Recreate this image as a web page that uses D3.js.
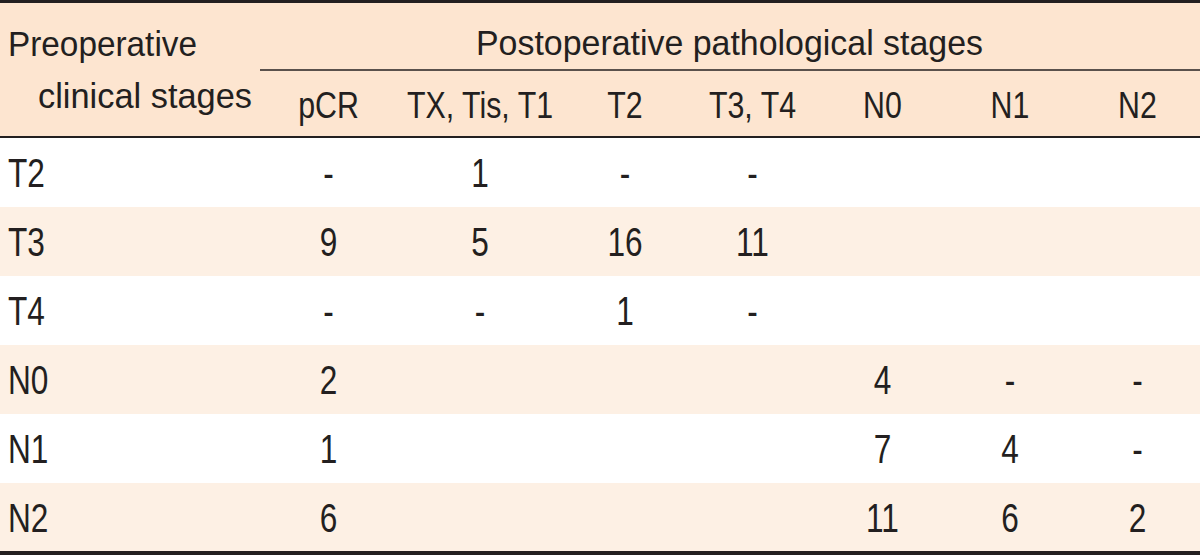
<!DOCTYPE html>
<html>
<head>
<meta charset="utf-8">
<script src="https://cdn.jsdelivr.net/npm/d3@7"></script>
<style>
  html, body { margin: 0; padding: 0; background: #ffffff; }
  svg { display: block; }
  text { font-family: "Liberation Sans", Arial, sans-serif; fill: #231f20; }
</style>
</head>
<body>
<svg id="chart" width="1200" height="555"></svg>
<script>
// ---- data ----
const stubTitle = ["Preoperative", "clinical stages"];
const spanTitle = "Postoperative pathological stages";
const columns = ["pCR", "TX, Tis, T1", "T2", "T3, T4", "N0", "N1", "N2"];
const rowLabels = ["T2", "T3", "T4", "N0", "N1", "N2"];
const rowT2 = ["-", "1", "-", "-", "", "", ""];
const rowT3 = ["9", "5", "16", "11", "", "", ""];
const rowT4 = ["-", "-", "1", "-", "", "", ""];
const rowN0 = ["2", "", "", "", "4", "-", "-"];
const rowN1 = ["1", "", "", "", "7", "4", "-"];
const rowN2 = ["6", "", "", "", "11", "6", "2"];
const cells = [rowT2, rowT3, rowT4, rowN0, rowN1, rowN2];

// ---- layout ----
const W = 1200, H = 555;
const stubW = 262;
const colWidths = [133, 170, 120, 135, 125, 130, 125];
const headTop = 3, headMid = 70, headBot = 138, bodyBot = 552;
const headerBg = "#fde5d0", altBg = "#fdf0e4", ink = "#231f20";
const headSX = 0.82, bodySX = 0.79;

const svg = d3.select("#chart");

// column scale: cumulative boundaries
const edges = [stubW];
colWidths.forEach(w => edges.push(edges[edges.length - 1] + w));
const xCenter = d3.scaleOrdinal().domain(columns)
  .range(columns.map((c, i) => (edges[i] + edges[i + 1]) / 2));

const y = d3.scaleBand().domain(rowLabels).range([headBot, bodyBot]).paddingInner(0).paddingOuter(0);

// backgrounds
svg.append("rect").attr("x", 0).attr("y", 0).attr("width", W).attr("height", headBot).attr("fill", headerBg);
svg.selectAll("rect.row").data(rowLabels).join("rect")
  .attr("class", "row")
  .attr("x", 0).attr("y", d => y(d)).attr("width", W).attr("height", y.bandwidth())
  .attr("fill", (d, i) => i % 2 === 1 ? altBg : "#ffffff");

// rules
svg.append("rect").attr("x", 0).attr("y", 0).attr("width", W).attr("height", headTop).attr("fill", ink);
svg.append("line").attr("x1", stubW - 2).attr("x2", W).attr("y1", headMid).attr("y2", headMid)
  .attr("stroke", ink).attr("stroke-width", 1.6);
svg.append("line").attr("x1", 0).attr("x2", W).attr("y1", headBot - 1).attr("y2", headBot - 1)
  .attr("stroke", ink).attr("stroke-width", 2);
svg.append("rect").attr("x", 0).attr("y", bodyBot - 1).attr("width", W).attr("height", H - bodyBot + 1).attr("fill", ink);

// header texts
svg.append("text").attr("x", 8).attr("y", 56).attr("font-size", 35)
  .attr("textLength", 189).attr("lengthAdjust", "spacingAndGlyphs").text(stubTitle[0]);
svg.append("text").attr("x", 38).attr("y", 108).attr("font-size", 35)
  .attr("textLength", 214).attr("lengthAdjust", "spacingAndGlyphs").text(stubTitle[1]);
svg.append("text").attr("x", 476).attr("y", 55).attr("font-size", 35)
  .attr("textLength", 507).attr("lengthAdjust", "spacingAndGlyphs").text(spanTitle);

svg.selectAll("text.colhead").data(columns).join("text")
  .attr("class", "colhead")
  .attr("transform", d => `translate(${xCenter(d)},118) scale(${headSX},1)`)
  .attr("text-anchor", "middle").attr("font-size", 37)
  .text(d => d);

// body
const capH = 29;
svg.selectAll("text.rowlab").data(rowLabels).join("text")
  .attr("class", "rowlab")
  .attr("transform", d => `translate(8,${y(d) + y.bandwidth() / 2 + capH / 2}) scale(${bodySX},1)`)
  .attr("font-size", 40)
  .text(d => d);

const flat = [];
cells.forEach((r, i) => r.forEach((v, j) => { if (v !== "") flat.push({ row: rowLabels[i], col: columns[j], v }); }));
svg.selectAll("text.cell").data(flat).join("text")
  .attr("class", "cell")
  .attr("transform", d => `translate(${xCenter(d.col)},${y(d.row) + y.bandwidth() / 2 + capH / 2}) scale(${bodySX},1)`)
  .attr("text-anchor", "middle").attr("font-size", 40)
  .text(d => d.v);
</script>
</body>
</html>
